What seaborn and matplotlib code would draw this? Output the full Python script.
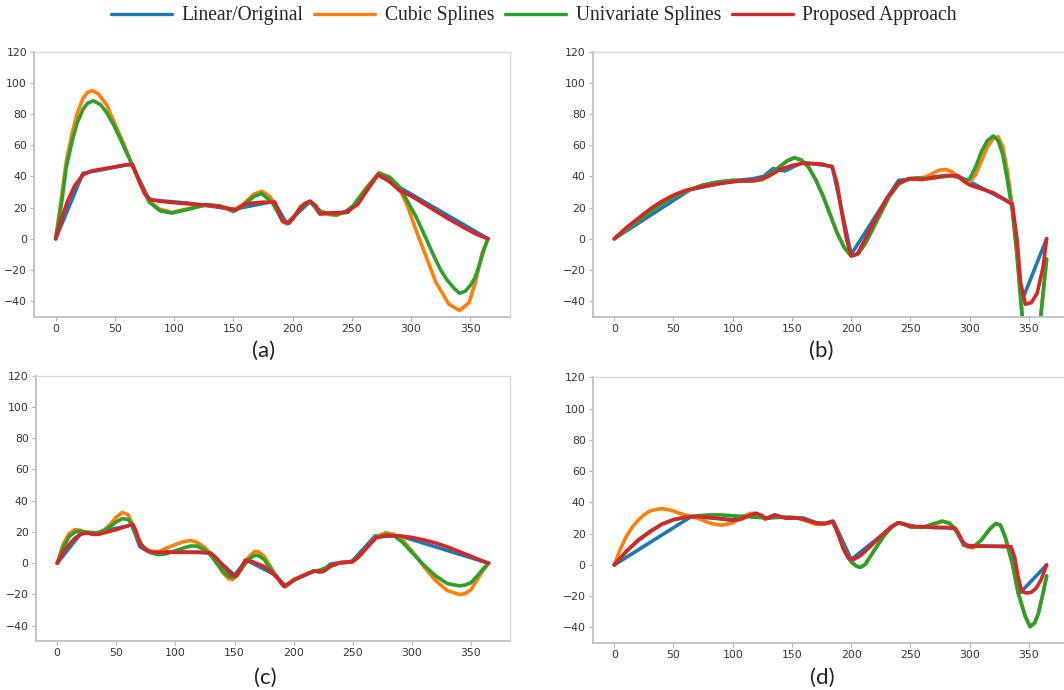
"""Interpolation comparison: four panels, shared legend on top."""
import matplotlib

matplotlib.use("Agg")
import matplotlib.pyplot as plt
import seaborn as sns

SERIES = ["Linear/Original", "Cubic Splines", "Univariate Splines", "Proposed Approach"]
PANEL_LABELS = ["(a)", "(b)", "(c)", "(d)"]
X_TICKS = [0, 50, 100, 150, 200, 250, 300, 350]
Y_TICKS = [-40, -20, 0, 20, 40, 60, 80, 100, 120]

# ---- panel (a)
A_LIN_X = [0, 23, 64, 79, 110, 130, 151, 184, 195, 215, 223, 247, 272, 365]
A_LIN_Y = [0, 42, 48, 25, 23, 21, 19, 24, 10, 24, 16, 17, 41, 0]
A_CUB_X = [0, 5, 9, 14, 18, 23, 27, 31, 36, 43, 51, 58, 64, 71, 79, 88, 98, 110, 127, 139,
           150, 158, 167, 174, 181, 186, 191, 195, 200, 207, 214, 220, 224, 231, 237, 245, 251, 262, 273, 282,
           290, 297, 304, 313, 321, 332, 341, 349, 355, 360, 365]
A_CUB_Y = [0, 27, 50, 68, 80, 90, 94, 95, 93, 86, 72, 60, 48.5, 36, 24, 19, 17, 19, 21.5, 21,
           18.5, 22, 28.5, 30.5, 27, 21, 11.5, 9.5, 12.5, 21, 24, 20, 16.5, 15.5, 15, 17.5, 21, 32.5, 42.5, 39,
           32.5, 21, 6, -12, -28, -42, -46, -41, -26, -9, 0]
A_UNI_X = [0, 5, 9, 14, 18, 23, 27, 32, 38, 43, 49, 54, 60, 64, 71, 79, 88, 98, 110, 127,
           139, 150, 158, 167, 174, 183, 190, 195, 200, 207, 214, 220, 224, 231, 237, 245, 251, 262, 273, 282,
           290, 297, 304, 311, 318, 325, 330, 336, 341, 346, 350, 354, 358, 362, 365]
A_UNI_Y = [0, 23, 46, 63, 74, 83, 87, 88.5, 86, 81, 73, 65, 55, 48.5, 36, 23.5, 18, 16.5, 18.5, 22,
           21, 17.5, 21, 27, 29, 23, 13.5, 10, 12.5, 20.5, 24, 20, 17.5, 16, 15.5, 17.5, 21, 32, 42, 39.5,
           33.5, 24, 14.5, 3, -9, -20, -26, -31.5, -35, -33.5, -30, -25, -16, -6, 0]
A_PRO_X = [0, 5, 10, 16, 23, 30, 45, 60, 65, 70, 75, 80, 95, 110, 130, 145, 152, 160, 175, 185,
           188, 192, 197, 203, 210, 215, 220, 223, 230, 245, 255, 262, 272, 280, 290, 300, 315, 330, 345, 355,
           365]
A_PRO_Y = [0, 13, 24, 34, 41, 43.5, 45.5, 47.5, 47.5, 38, 29, 25, 23.5, 22.5, 21.5, 19.5, 18.5, 22.5, 23.5, 23.5,
           18, 11, 10, 16, 22.5, 24, 21, 16, 16.5, 17, 22, 30, 41, 38, 31, 27.5, 20.5, 13.5, 7, 3,
           0]

# ---- panel (b)
B_LIN_X = [0, 64, 98, 117, 126, 134, 144, 159, 184, 200, 240, 255, 288, 299, 336, 344, 365]
B_LIN_Y = [0, 31.5, 37, 38.5, 40, 45, 43.5, 49, 46.5, -10, 37.5, 38.5, 41, 37, 22.5, -40, 0]
B_CUB_X = [0, 10, 25, 40, 50, 62, 75, 88, 100, 115, 125, 133, 140, 146, 152, 158, 164, 170, 176, 182,
           188, 194, 200, 206, 212, 218, 225, 232, 240, 248, 256, 262, 268, 274, 280, 285, 290, 295, 300, 305,
           310, 315, 320, 324, 328, 332, 336, 340, 344, 348, 352, 356, 360, 362, 365]
B_CUB_Y = [0, 6, 14.5, 22.5, 27, 31, 34.5, 36.5, 37.5, 37, 38, 42, 46.5, 50, 52, 50.5, 46, 38, 28, 16,
           4, -5.5, -11, -9.5, -3, 6, 16.5, 27, 35, 38.5, 39, 39.5, 41.5, 44, 44.5, 43, 40, 37, 36.5, 41,
           50, 59, 64.5, 65.5, 59, 43, 21, -9, -45, -80, -100, -92, -50, -35, -13]
B_UNI_X = [0, 10, 25, 40, 50, 62, 75, 88, 100, 115, 125, 133, 140, 146, 152, 158, 164, 170, 176, 182,
           188, 194, 200, 206, 212, 218, 225, 232, 240, 248, 256, 265, 275, 285, 292, 296, 300, 305, 310, 315,
           320, 324, 328, 332, 336, 340, 344, 348, 352, 356, 360, 362, 365]
B_UNI_Y = [0, 6, 14.5, 22.5, 27, 31, 34.5, 36.5, 37.5, 37, 38, 42, 46.5, 50, 52, 50.5, 46, 38, 28, 16,
           4, -5.5, -11, -9.5, -3, 6, 16.5, 27, 35, 38.5, 39, 38.5, 39.5, 40.5, 39, 37.5, 38.5, 46, 56, 63,
           66, 63, 54, 37, 18, -11, -47, -80, -100, -92, -50, -35, -13]
B_PRO_X = [0, 10, 20, 30, 40, 50, 60, 75, 90, 105, 120, 130, 140, 150, 160, 175, 184, 188, 192, 196,
           200, 205, 212, 220, 230, 240, 250, 260, 270, 280, 290, 295, 300, 310, 320, 330, 336, 340, 343, 347,
           352, 357, 362, 365]
B_PRO_Y = [0, 7, 13, 19, 24, 28, 31, 33.5, 35.5, 37, 37.5, 40, 44.5, 47, 48.5, 48, 46, 36, 17, 0,
           -11, -10, 0, 12, 26, 36, 38.5, 38, 39.5, 40.5, 40.5, 37, 34.5, 32, 29.5, 25, 22, 0, -28, -42,
           -41, -35, -18, 0]

# ---- panel (c)
C_LIN_X = [0, 21, 33, 63, 70, 77, 129, 150, 160, 185, 193, 200, 217, 224, 231, 242, 249, 269, 290, 365]
C_LIN_Y = [0, 20, 19.5, 24.5, 10.5, 7.5, 6.8, -7.7, 2, -7.7, -15, -11, -5, -5.6, -0.6, 0.6, 0.8, 17.5, 17.5, 0]
C_CUB_X = [0, 5, 10, 15, 20, 25, 30, 35, 40, 45, 50, 55, 60, 63, 67, 72, 78, 85, 92, 100,
           108, 113, 118, 125, 130, 135, 140, 145, 148, 152, 157, 162, 167, 170, 175, 180, 185, 190, 193, 198,
           205, 212, 218, 222, 230, 238, 245, 250, 255, 262, 270, 278, 285, 292, 300, 310, 320, 330, 340, 345,
           350, 355, 360, 365]
C_CUB_Y = [0, 12, 19, 21.5, 21, 19.5, 19, 19.5, 21.5, 25, 29.5, 32.5, 31, 26, 18, 11, 8, 7, 9.5, 12,
           14, 14.5, 13.5, 10, 6, 0, -6, -10, -10.5, -8, -2, 4, 7.5, 7.5, 4.5, -1.5, -8, -13.5, -15, -12,
           -9, -6.5, -5, -5, -2.5, 0, 0.5, 1, 4, 10, 17, 19.5, 18.5, 15, 8, -2, -11, -17.5, -20, -19.5,
           -17, -11, -5, 0]
C_UNI_X = C_CUB_X
C_UNI_Y = [0, 10, 17, 20, 20.5, 19.5, 19, 19.5, 21, 23.5, 26.5, 28.5, 28, 25, 18, 11, 7, 5.5, 6, 8,
           10, 11, 11, 8.5, 5, 0, -5, -8.5, -9, -8, -2.5, 2.5, 5, 5, 2.5, -3, -8, -12.5, -14, -12,
           -9, -6.5, -5, -4.5, -2, 0, 0.5, 1.5, 4.5, 10, 16.5, 18.5, 17.5, 13.5, 7, -1, -8, -13, -14.5, -14,
           -12.5, -8.5, -4, 0]
C_PRO_X = [0, 5, 10, 15, 20, 25, 30, 35, 40, 50, 60, 64, 67, 70, 75, 80, 100, 120, 130, 135,
           140, 147, 151, 155, 159, 165, 175, 183, 188, 192, 196, 200, 210, 217, 222, 226, 232, 240, 250, 255,
           262, 270, 280, 290, 300, 310, 320, 330, 340, 350, 358, 365]
C_PRO_Y = [0, 7, 12, 16, 18.5, 19.5, 18.5, 18.5, 19.5, 21.5, 24, 25, 20, 12.5, 8.5, 7, 7, 7, 6.5, 3,
           -1.5, -7, -8.5, -4, 2, 1, -2, -7, -11, -15, -13, -10.5, -7.5, -5, -5.5, -5, -1.5, 0.5, 1, 4,
           10, 16.5, 17.5, 17.5, 16.5, 15, 13, 10.5, 7.5, 4.5, 2, 0]

# ---- panel (d)
D_LIN_X = [0, 65, 100, 115, 120, 127, 135, 140, 160, 172, 180, 185, 200, 239, 255, 288, 295, 335, 343, 365]
D_LIN_Y = [0, 31, 29, 32.5, 33, 29.5, 32, 30.5, 30, 26.5, 26.5, 28, 3.5, 27, 24.5, 23.5, 12.5, 11.5, -17.5, 0]
D_CUB_X = [0, 5, 10, 15, 20, 25, 30, 35, 40, 45, 50, 55, 60, 65, 70, 75, 80, 85, 90, 95,
           100, 105, 110, 115, 118, 122, 127, 132, 136, 140, 145, 150, 155, 160, 165, 170, 175, 180, 185, 190,
           195, 200, 205, 208, 212, 220, 228, 235, 240, 245, 250, 260, 270, 277, 283, 288, 293, 298, 303, 310,
           317, 322, 326, 330, 336, 341, 347, 351, 355, 358, 362, 365]
D_CUB_Y = [0, 10, 18, 24, 28.5, 32, 34.5, 35.5, 36, 35.5, 34.5, 33, 32, 31, 30, 28.5, 27, 26, 25.5, 26,
           27, 29, 31.5, 33, 33, 31.5, 29.5, 30.5, 31.5, 31, 30, 30, 30, 29, 27.5, 26, 26, 27, 27.5, 18,
           8, 2, -1, -1.5, 0.5, 10, 19, 25, 27, 26, 24.5, 24, 26, 28, 27, 23, 16, 11.5, 11, 16,
           23, 26.5, 25.5, 18, 1, -18, -33, -39.5, -37, -31, -18, -7]
D_UNI_X = [0, 10, 20, 30, 40, 50, 60, 70, 80, 90, 100, 110, 120, 130, 140, 150, 160, 170, 178, 185,
           190, 195, 200, 205, 208, 212, 220, 228, 235, 240, 245, 250, 260, 270, 277, 283, 288, 293, 298, 303,
           310, 317, 322, 326, 330, 336, 341, 347, 351, 355, 358, 362, 365]
D_UNI_Y = [0, 8.5, 16, 21.5, 26, 29, 30.5, 31.5, 32, 32, 31.5, 31, 30.5, 30, 30.5, 30.5, 29.5, 27, 26.5, 27.5,
           18, 8, 2, -1, -1.5, 0.5, 10, 19, 25, 27, 26, 24.5, 24, 26.5, 28, 26.5, 22.5, 16, 12, 11.5,
           16, 23, 26.5, 25.5, 18, 1, -18, -33, -39.5, -37, -31, -18, -7]
D_PRO_X = [0, 10, 20, 30, 40, 50, 60, 70, 80, 90, 100, 108, 115, 120, 125, 128, 132, 136, 140, 145,
           155, 165, 172, 178, 184, 188, 193, 198, 202, 208, 215, 225, 233, 240, 245, 250, 260, 270, 280, 287,
           290, 295, 300, 310, 320, 330, 335, 338, 341, 344, 348, 352, 356, 360, 365]
D_PRO_Y = [0, 8.5, 15.5, 21, 26, 29, 30.5, 31, 30.5, 29.5, 28.5, 29.5, 32, 33, 31.5, 29.5, 30.5, 32, 31, 30,
           30, 28, 26.5, 26.5, 28, 22, 11, 4, 3.5, 6, 11, 18.5, 24, 27, 26, 24.5, 24.5, 24, 24, 23.5,
           21, 13.5, 12, 12, 12, 12, 11.5, 5, -8, -17, -18, -17.5, -15, -10, 0]

PANELS = [
    [(A_LIN_X, A_LIN_Y), (A_CUB_X, A_CUB_Y), (A_UNI_X, A_UNI_Y), (A_PRO_X, A_PRO_Y)],
    [(B_LIN_X, B_LIN_Y), (B_CUB_X, B_CUB_Y), (B_UNI_X, B_UNI_Y), (B_PRO_X, B_PRO_Y)],
    [(C_LIN_X, C_LIN_Y), (C_CUB_X, C_CUB_Y), (C_UNI_X, C_UNI_Y), (C_PRO_X, C_PRO_Y)],
    [(D_LIN_X, D_LIN_Y), (D_CUB_X, D_CUB_Y), (D_UNI_X, D_UNI_Y), (D_PRO_X, D_PRO_Y)],
]

sns.set_theme(style="white")
plt.rcParams["font.family"] = ["DejaVu Sans"]
colors = sns.color_palette("tab10", 4)

fig = plt.figure(figsize=(10.64, 6.9), dpi=100)

# axes rectangles in figure fractions (left, bottom, width, height)
rects = [
    (0.032, 0.541, 0.447, 0.384),
    (0.557, 0.541, 0.447, 0.384),
    (0.0335, 0.0705, 0.446, 0.385),
    (0.557, 0.0680, 0.447, 0.385),
]
label_pos = [(0.248, 0.491), (0.772, 0.491), (0.249, 0.018), (0.773, 0.018)]

axes = []
for rect, series, lab, lpos in zip(rects, PANELS, PANEL_LABELS, label_pos):
    ax = fig.add_axes(rect)
    for name, (xs, ys), c in zip(SERIES, series, colors):
        sns.lineplot(x=xs, y=ys, ax=ax, color=c, linewidth=2.6, label=name,
                     legend=False, solid_joinstyle="round", solid_capstyle="round")
    ax.set_xlim(-18.25, 383.25)
    ax.set_ylim(-50, 120)
    ax.set_xticks(X_TICKS)
    ax.set_yticks(Y_TICKS)
    ax.tick_params(left=True, bottom=True, length=3, width=0.8, color="#b0b0b0",
                   labelsize=7.8, labelcolor="#333333", pad=2)
    for side in ["left", "bottom"]:
        ax.spines[side].set_color("#c4c4c4")
        ax.spines[side].set_linewidth(1.4)
    for side in ["top", "right"]:
        ax.spines[side].set_color("#dadada")
        ax.spines[side].set_linewidth(1.0)
    fig.text(lpos[0], lpos[1], lab, ha="center", va="center", fontsize=16,
             family=["Lato", "DejaVu Sans"], color="#222222")
    axes.append(ax)

handles, labels = axes[0].get_legend_handles_labels()
leg = fig.legend(handles, labels, loc="center", bbox_to_anchor=(0.502, 0.977), ncol=4,
                 frameon=False, handlelength=3.1, handletextpad=0.5, columnspacing=0.55,
                 borderpad=0.2, prop={"family": ["Liberation Serif", "DejaVu Serif"], "size": 14.1})
for line in leg.get_lines():
    line.set_linewidth(2.4)

fig.savefig("out.png", dpi=100)
plt.close(fig)
